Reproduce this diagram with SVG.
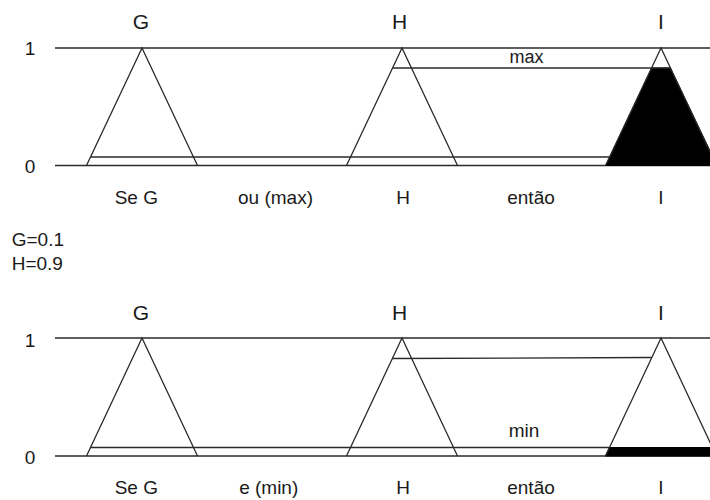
<svg xmlns="http://www.w3.org/2000/svg" width="710" height="500" viewBox="0 0 710 500">
<style>
.ln{stroke:#2a2a2a;stroke-width:1.3;fill:none}
.tri{stroke:#2a2a2a;stroke-width:1.3;fill:none;stroke-linejoin:miter}
.fill{fill:#000;stroke:#000;stroke-width:1}
text{font-family:"Liberation Sans",Arial,sans-serif;fill:#1a1a1a}
.big{font-size:21px;text-anchor:middle}
.lab{font-size:19px;text-anchor:middle}
.ax{font-size:19px;text-anchor:middle}
</style>
<rect width="710" height="500" fill="#fff"/>
<g id="top">
  <g id="top-axes">
    <line class="ln" x1="55" y1="48" x2="710" y2="48"/>
    <line class="ln" x1="55" y1="165.5" x2="710" y2="165.5"/>
    <text class="ax" x="30" y="55">1</text>
    <text class="ax" x="30" y="173">0</text>
  </g>
  <g id="top-I-fill">
    <polygon class="fill" points="606,165.5 651.6,68 670.4,68 717,165.5"/>
  </g>
  <g id="top-G">
    <polyline class="tri" points="86.5,165.5 142,48 197.5,165.5"/>
    <text class="big" x="141" y="28.5">G</text>
  </g>
  <g id="top-H">
    <polyline class="tri" points="346.5,165.5 402,48 457.5,165.5"/>
    <text class="big" x="399.5" y="29">H</text>
  </g>
  <g id="top-I">
    <polyline class="tri" points="605.5,165.5 661,48 716.5,165.5"/>
    <text class="big" x="661" y="29">I</text>
  </g>
  <g id="top-connectors">
    <line class="ln" x1="90.8" y1="157" x2="609.5" y2="157"/>
    <line class="ln" x1="392.6" y1="68" x2="671" y2="68"/>
    <text class="lab" x="526.5" y="62.5" style="font-size:18px">max</text>
  </g>
  <g id="top-labels">
    <text class="lab" x="136.3" y="204">Se G</text>
    <text class="lab" x="275.5" y="204">ou (max)</text>
    <text class="lab" x="403" y="204">H</text>
    <text class="lab" x="531" y="204">então</text>
    <text class="lab" x="661" y="204">I</text>
  </g>
</g>
<g id="values">
  <text x="11.7" y="245.7" style="font-size:19px">G=0.1</text>
  <text x="11.7" y="270" style="font-size:19px">H=0.9</text>
</g>
<g id="bottom">
  <g id="bot-axes">
    <line class="ln" x1="55" y1="338" x2="710" y2="338"/>
    <line class="ln" x1="55" y1="456" x2="710" y2="456"/>
    <text class="ax" x="30" y="346.5">1</text>
    <text class="ax" x="30" y="464">0</text>
  </g>
  <g id="bot-I-fill">
    <polygon class="fill" points="609.3,447.5 710,447.5 710,456 605.5,456"/>
  </g>
  <g id="bot-G">
    <polyline class="tri" points="86.5,456 142,338 197.5,456"/>
    <text class="big" x="141" y="319.5">G</text>
  </g>
  <g id="bot-H">
    <polyline class="tri" points="346.5,456 402,338 457.5,456"/>
    <text class="big" x="399.5" y="320">H</text>
  </g>
  <g id="bot-I">
    <polyline class="tri" points="605.5,456 661,338 716.5,456"/>
    <text class="big" x="661" y="320">I</text>
  </g>
  <g id="bot-connectors">
    <line class="ln" x1="90.3" y1="447.5" x2="609.3" y2="447.5"/>
    <line class="ln" x1="392" y1="358.5" x2="651.5" y2="357.5"/>
    <text class="lab" x="524" y="437">min</text>
  </g>
  <g id="bot-labels">
    <text class="lab" x="136.3" y="494">Se G</text>
    <text class="lab" x="268.7" y="494">e (min)</text>
    <text class="lab" x="403" y="494">H</text>
    <text class="lab" x="531" y="494">então</text>
    <text class="lab" x="661" y="494">I</text>
  </g>
</g>
</svg>
